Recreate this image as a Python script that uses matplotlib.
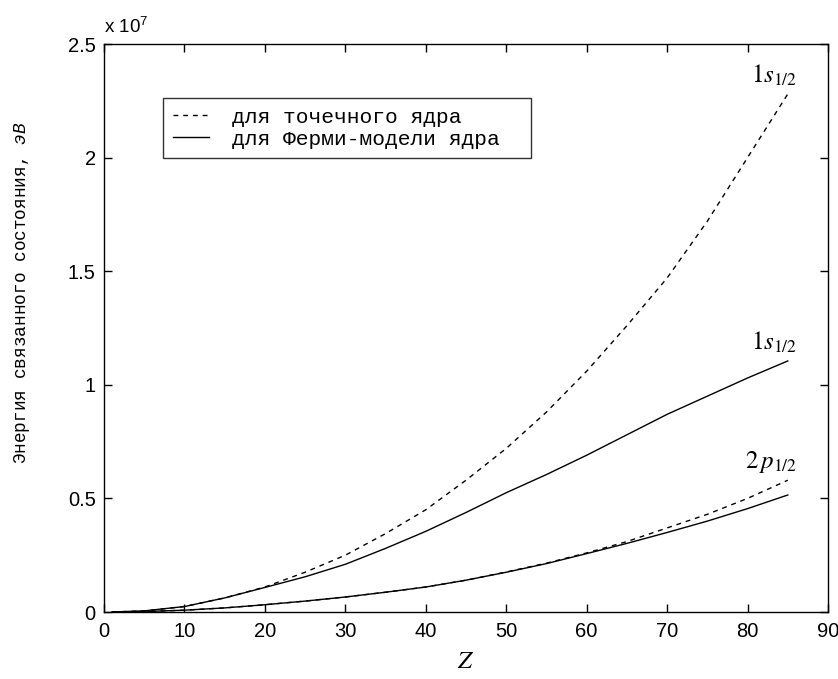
import numpy as np
import matplotlib
matplotlib.use("Agg")
import matplotlib.pyplot as plt
from matplotlib.ticker import FuncFormatter, FixedLocator

plt.rcParams['mathtext.fontset'] = 'custom'
plt.rcParams['mathtext.rm'] = 'Liberation Sans'
plt.rcParams['mathtext.it'] = 'Liberation Mono:italic'

Z = [1, 5, 10, 15, 20, 25, 30, 35, 40, 45, 50, 55, 60, 65, 70, 75, 80, 85]
# binding energies, eV
s1_point = [0.0, 0.05e6, 0.24e6, 0.62e6, 1.1e6, 1.75e6, 2.5e6, 3.45e6, 4.5e6, 5.8e6,
            7.2e6, 8.8e6, 10.6e6, 12.6e6, 14.7e6, 17.2e6, 20.0e6, 22.8e6]
s1_fermi = [0.0, 0.05e6, 0.24e6, 0.62e6, 1.08e6, 1.55e6, 2.1e6, 2.8e6, 3.55e6, 4.38e6,
            5.25e6, 6.05e6, 6.9e6, 7.8e6, 8.7e6, 9.5e6, 10.3e6, 11.05e6]
p2_point = [0.0, 0.02e6, 0.08e6, 0.18e6, 0.32e6, 0.48e6, 0.66e6, 0.87e6, 1.1e6, 1.4e6,
            1.76e6, 2.15e6, 2.6e6, 3.1e6, 3.7e6, 4.3e6, 5.0e6, 5.8e6]
p2_fermi = [0.0, 0.02e6, 0.08e6, 0.18e6, 0.32e6, 0.48e6, 0.66e6, 0.87e6, 1.1e6, 1.4e6,
            1.75e6, 2.13e6, 2.57e6, 3.02e6, 3.5e6, 4.0e6, 4.55e6, 5.15e6]

legend_labels = ['для точечного ядра', 'для Ферми-модели ядра']
curve_labels = [r'$1s_{1/2}$', r'$1s_{1/2}$', r'$2\,p_{1/2}$']
xticks = [0, 10, 20, 30, 40, 50, 60, 70, 80, 90]
yticks = [0, 0.5e7, 1.0e7, 1.5e7, 2.0e7, 2.5e7]

fig = plt.figure(figsize=(8.38, 6.79), dpi=100)
ax = fig.add_axes([104/838, 67/679, 724/838, 568/679])

dash = (0, (3.5, 3.5))
l1, = ax.plot(Z, s1_point, color='black', lw=1.0, linestyle=dash)
l2, = ax.plot(Z, s1_fermi, color='black', lw=1.0)
ax.plot(Z, p2_point, color='black', lw=1.0, linestyle=dash)
ax.plot(Z, p2_fermi, color='black', lw=1.0)

ax.set_xlim(0, 90)
ax.set_ylim(0, 2.5e7)
ax.xaxis.set_major_locator(FixedLocator(xticks))
ax.yaxis.set_major_locator(FixedLocator(yticks))
ax.yaxis.set_major_formatter(FuncFormatter(lambda v, p: ('%g' % (v / 1e7))))
ax.tick_params(direction='in', length=6, width=1, top=True, right=True,
               labelsize=14.5)
ax.tick_params(axis='x', pad=7)
ax.tick_params(axis='y', pad=6)
for lab in ax.get_xticklabels() + ax.get_yticklabels():
    lab.set_family(['Liberation Sans'])
for sp in ax.spines.values():
    sp.set_linewidth(1.0)

ax.text(0.0, 1.012, r'x 10$^{7}$', transform=ax.transAxes, fontsize=13.5,
        family=['Liberation Sans'], ha='left', va='bottom')

ax.set_xlabel(r'$Z$', fontsize=18, labelpad=6, math_fontfamily='stix')
ax.set_ylabel('Энергия связанного состояния, $эВ$', fontsize=12.8,
              family=['Liberation Mono'])
ax.yaxis.set_label_coords((32 - 104) / 724, (612 - 293) / 568)

lx0 = (163 - 104) / 724
ly1 = 1 - (98 - 44) / 568
lw_ = (531 - 163) / 724
lh_ = 61 / 568
leg = ax.legend([l1, l2], legend_labels, loc='upper left',
                bbox_to_anchor=(lx0, ly1 - lh_, lw_, lh_), mode='expand',
                borderaxespad=0, frameon=True, fancybox=False,
                edgecolor='black', handlelength=1.7, borderpad=0.45,
                labelspacing=0.15, handletextpad=1.1,
                prop={'family': 'Liberation Mono', 'size': 15.3})
leg.get_frame().set_linewidth(1.0)

for yv, lab in zip([s1_point[-1], s1_fermi[-1], p2_point[-1]], curve_labels):
    ax.text(Z[-1] + 1.2, yv + 0.25e6, lab, fontsize=18, ha='right', va='bottom',
            math_fontfamily='stix')

fig.savefig('out.png', dpi=100)
